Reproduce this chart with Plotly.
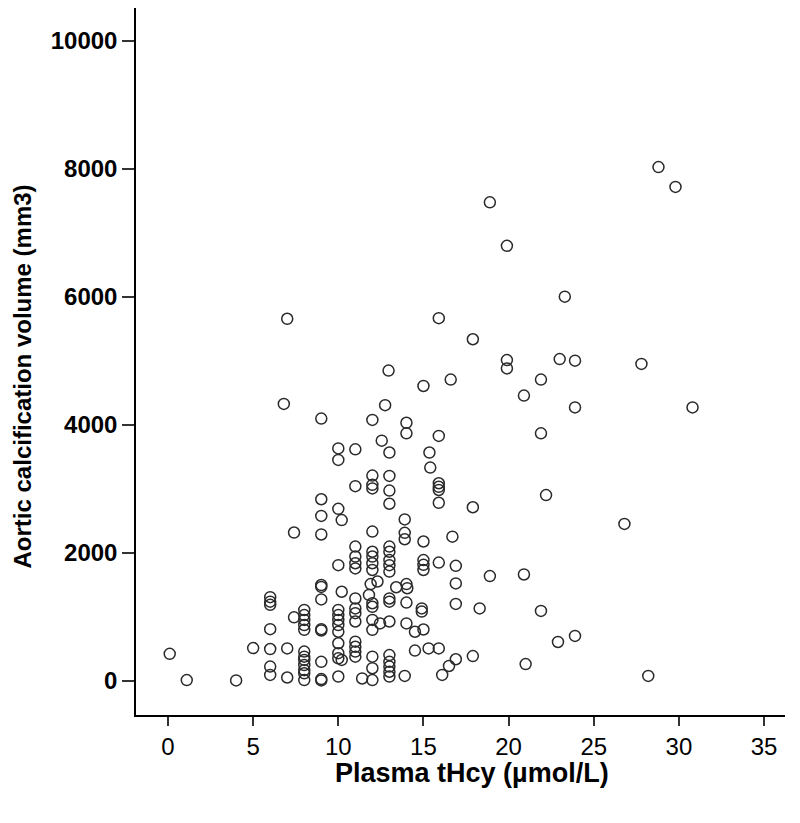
import plotly.graph_objects as go

# Plasma tHcy (µmol/L)
thcy = [
    28.8, 29.8, 18.9, 19.9, 23.3, 7.0, 15.9, 17.9, 19.9, 19.9, 23.0, 23.9, 27.8, 12.95, 16.6, 21.9, 15.0, 20.9,
    6.8, 12.75, 23.9, 30.8, 9.0, 12.0, 14.0, 14.0, 21.9, 15.9, 12.55, 10.0, 11.0, 13.0, 15.35, 10.0, 15.4,
    12.0, 13.0, 11.0, 12.0, 12.0, 15.9, 15.9, 15.9, 13.0, 22.2, 9.0, 15.9, 13.0, 17.9, 10.0, 9.0, 10.2, 13.9,
    26.8, 12.0, 7.4, 13.9, 9.0, 16.7, 13.9, 15.0, 11.0, 13.0, 12.0, 13.0, 11.0, 12.0, 13.0, 15.0, 11.0, 12.0,
    15.9, 10.0, 13.0, 15.0, 16.9, 11.0, 12.0, 13.0, 15.0, 20.9, 18.9, 16.9, 12.3, 11.9, 14.0, 13.4, 14.05,
    9.0, 9.0, 10.2, 6.0, 6.0, 6.0, 11.8, 11.0, 13.0, 9.0, 13.0, 14.0, 12.0, 12.0, 16.9, 18.3, 14.9, 14.9,
    11.0, 11.0, 8.0, 8.0, 8.0, 8.0, 8.0, 10.0, 10.0, 10.0, 10.0, 10.0, 21.9, 7.4, 12.0, 11.0, 13.0, 12.45,
    14.0, 6.0, 9.0, 9.0, 12.0, 15.0, 14.5, 23.9, 22.9, 11.0, 10.0, 11.0, 5.0, 6.0, 7.0, 15.3, 15.9, 14.5,
    11.0, 8.0, 0.1, 13.0, 17.9, 12.0, 11.0, 8.0, 16.9, 10.2, 8.0, 9.0, 13.0, 6.0, 8.0, 16.5, 13.0, 21.0,
    12.0, 8.0, 13.0, 8.0, 6.0, 16.1, 28.2, 10.0, 13.0, 13.9, 7.0, 11.4, 12.0, 8.0, 9.0, 9.0, 1.1, 4.0,
    10.0, 10.0,
]

# Aortic calcification volume (mm3)
volume = [
    8030, 7720, 7480, 6800, 6005, 5660, 5670, 5340, 5015, 4885, 5030, 5005, 4955, 4850, 4710, 4710, 4610, 4460,
    4330, 4310, 4275, 4275, 4100, 4080, 4035, 3870, 3870, 3830, 3755, 3635, 3620, 3570, 3570, 3455, 3335,
    3210, 3205, 3045, 3065, 3010, 3090, 3035, 2985, 2975, 2905, 2840, 2785, 2770, 2715, 2690, 2580, 2515, 2525,
    2455, 2335, 2320, 2315, 2290, 2255, 2215, 2180, 2100, 2100, 2020, 2020, 1945, 1945, 1890, 1890, 1840, 1840,
    1850, 1810, 1810, 1815, 1800, 1760, 1735, 1710, 1735, 1665, 1640, 1525, 1555, 1515, 1515, 1465, 1450,
    1500, 1470, 1395, 1310, 1240, 1190, 1345, 1290, 1290, 1275, 1240, 1225, 1215, 1160, 1205, 1135, 1135, 1085,
    1135, 1060, 1110, 1030, 955, 875, 800, 1110, 1030, 955, 875, 770, 1095, 995, 955, 930, 930, 900,
    900, 810, 810, 790, 800, 805, 770, 705, 610, 615, 590, 535, 515, 500, 510, 510, 510, 475,
    460, 460, 425, 405, 390, 380, 380, 380, 340, 330, 330, 300, 300, 225, 250, 235, 225, 265,
    200, 170, 145, 120, 95, 95, 80, 70, 70, 80, 55, 40, 15, 15, 30, 10, 15, 10,
    435, 355,
]

x_ticks = [0, 5, 10, 15, 20, 25, 30, 35]
y_ticks = [0, 2000, 4000, 6000, 8000, 10000]
x_title = "Plasma tHcy (µmol/L)"
y_title = "Aortic calcification volume (mm3)"

fig = go.Figure()
fig.add_trace(go.Scatter(
    x=thcy, y=volume, mode="markers",
    marker=dict(symbol="circle-open", size=11, color="#2a2a2a", line=dict(width=1.5, color="#2a2a2a")),
    showlegend=False,
))

fig.update_layout(
    width=800, height=823,
    margin=dict(l=128, r=23, t=0, b=116),
    paper_bgcolor="white", plot_bgcolor="white",
    font=dict(family="Liberation Sans, Arial, sans-serif", color="black"),
    annotations=[
        dict(text=f"<b>{x_title}</b>", xref="paper", yref="paper", x=0.5177, y=0,
             xanchor="center", yanchor="middle", yshift=-58, showarrow=False,
             font=dict(size=27, color="black")),
        dict(text=f"<b>{y_title}</b>", xref="paper", yref="paper", x=0, y=0.4788,
             xanchor="center", yanchor="middle", xshift=-114, textangle=-90, showarrow=False,
             font=dict(size=24, color="black")),
    ],
)
fig.update_xaxes(
    range=[-1.88, 36.23], tickvals=x_ticks, ticktext=[str(v) for v in x_ticks],
    showgrid=False, zeroline=False, showline=True, linecolor="black", linewidth=1.5,
    ticks="outside", ticklen=9, tickwidth=1.5, tickcolor="#333",
    tickfont=dict(size=24, family="Liberation Sans, Arial, sans-serif"),
)
fig.update_yaxes(
    range=[-531, 10516], tickvals=y_ticks, ticktext=[f"<b>{v}</b>" for v in y_ticks],
    showgrid=False, zeroline=False, showline=True, linecolor="black", linewidth=1.5,
    ticks="outside", ticklen=12, tickwidth=1.5, tickcolor="#333",
    tickfont=dict(size=24, family="Liberation Sans, Arial, sans-serif"),
)

fig.write_html("out.html")
